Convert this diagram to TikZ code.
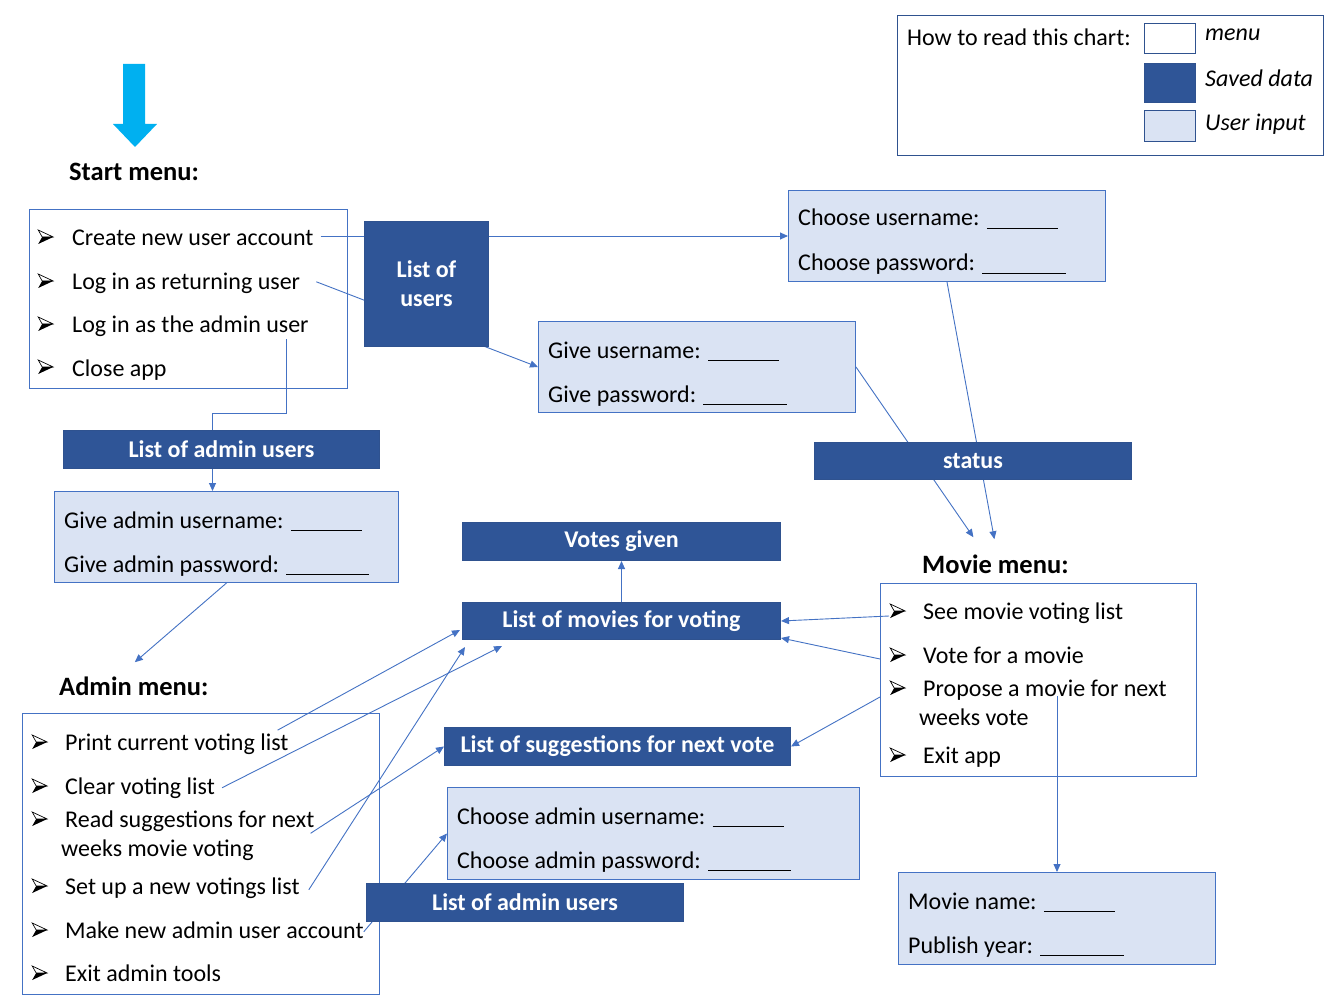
\documentclass[tikz,border=0pt]{standalone}
\usepackage{fontspec}
\setmainfont{Carlito}
\usetikzlibrary{arrows.meta,calc}
\definecolor{accent}{HTML}{4472C4}
\definecolor{navy}{HTML}{2F5597}
\definecolor{navyline}{HTML}{2F528F}
\definecolor{paleblue}{HTML}{DAE3F3}
\definecolor{skyarrow}{HTML}{00B0F0}
\pgfdeclarelayer{bg}
\pgfsetlayers{bg,main}
% answer field drawn as a rule of the given width (pt)
\newcommand\blankline[1]{\rule[-3pt]{#1pt}{1pt}}

\begin{document}
\begin{tikzpicture}[x=1pt,y=-1pt,
  every node/.style={font=\fontsize{24}{29}\selectfont},
  frame/.style={draw=accent, line width=1pt, anchor=north west, inner sep=0pt},
  menubox/.style={frame},
  inputbox/.style={frame, fill=paleblue},
  databox/.style={draw=navyline, fill=navy, line width=1pt, anchor=north west,
    inner sep=0pt, text=white, align=center,
    font=\fontsize{24}{29}\selectfont\bfseries},
  item/.style={anchor=base west, inner sep=0pt},
  % arrowhead bullet: outlined upper half, dark lower half
  bullet/.style={anchor=west, inner sep=0pt, minimum width=17pt, minimum height=16pt,
    path picture={
      \draw[black, line width=0.7pt, fill=white, line join=miter]
        ($(path picture bounding box.center)+(-7.5pt,7pt)$)
        -- ($(path picture bounding box.center)+(7.5pt,0pt)$)
        -- ($(path picture bounding box.center)+(-3.5pt,0pt)$) -- cycle;
      \fill[black]
        ($(path picture bounding box.center)+(-3.5pt,0pt)$)
        -- ($(path picture bounding box.center)+(7.5pt,0pt)$)
        -- ($(path picture bounding box.center)+(-7.5pt,-7pt)$) -- cycle;
    }},
  heading/.style={anchor=base west, inner sep=0pt, font=\fontsize{26.5}{31}\selectfont\bfseries},
  key/.style={anchor=base west, inner sep=0pt, font=\fontsize{24}{29}\selectfont\itshape},
  swatch/.style={draw=navyline, line width=1pt, anchor=north west, minimum width=51pt, inner sep=0pt},
  link/.style={draw=accent, line width=0.9pt, -{Triangle[length=8pt,width=7pt]}}
]
\useasboundingbox (0,0) rectangle (1344,1008);

% entry arrow
\fill[skyarrow] (123,64) -- (145,64) -- (145,124) -- (157,124) -- (135,147)
  -- (113,124) -- (123,124) -- cycle;

% ---------- start menu ----------
\node[heading] (startlbl) at (69,181) {Start menu:};
\node[menubox, minimum width=318pt, minimum height=179pt] (smenu) at (29,209) {};
\node[bullet] (smb1) at (37,237) {};
\node[item]   (smi1) at (72,246) {Create new user account};
\node[bullet] (smb2) at (37,281) {};
\node[item]   (smi2) at (72,290) {Log in as returning user};
\node[bullet] (smb3) at (37,324) {};
\node[item]   (smi3) at (72,333) {Log in as the admin user};
\node[bullet] (smb4) at (37,367) {};
\node[item]   (smi4) at (72,376) {Close app};

\node[databox, minimum width=124pt, minimum height=125pt] (users) at (364,221) {List of\\users};

\node[inputbox, minimum width=317pt, minimum height=91pt] (chooseu) at (788,190) {};
\node[item] (cu1) at (798,226) {Choose username: \blankline{71}};
\node[item] (cu2) at (798,271) {Choose password: \blankline{84}};

\node[inputbox, minimum width=317pt, minimum height=91pt] (givu) at (538,321) {};
\node[item] (gu1) at (548,358) {Give username: \blankline{71}};
\node[item] (gu2) at (548,402) {Give password: \blankline{84}};

\node[databox, minimum width=317pt, minimum height=37pt] (status) at (814,442) {status};

\node[databox, minimum width=316pt, minimum height=38pt] (admins) at (63,430) {List of admin users};

\node[inputbox, minimum width=344pt, minimum height=91pt] (gadmin) at (54,491) {};
\node[item] (ga1) at (64,528) {Give admin username: \blankline{71}};
\node[item] (ga2) at (64,572) {Give admin password: \blankline{83}};

\node[databox, minimum width=318pt, minimum height=38pt] (votes) at (462,522) {Votes given};
\node[databox, minimum width=318pt, minimum height=37pt] (movies) at (462,602) {List of movies for voting};

% ---------- movie menu ----------
\node[heading] (mmlabel) at (922,573) {Movie menu:};
\node[menubox, minimum width=316pt, minimum height=193pt] (mmenu) at (880,583) {};
\node[bullet] (mmb1) at (889,611) {};
\node[item]   (mm1)  at (923,619) {See movie voting list};
\node[bullet] (mmb2) at (889,655) {};
\node[item]   (mm2)  at (923,663) {Vote for a movie};
\node[bullet] (mmb3) at (889,688) {};
\node[item]   (mm3)  at (923,696) {Propose a movie for next};
\node[item]   (mm3b) at (919,725) {weeks vote};
\node[bullet] (mmb4) at (889,755) {};
\node[item]   (mm4)  at (923,763) {Exit app};

\node[inputbox, minimum width=317pt, minimum height=92pt] (mname) at (898,872) {};
\node[item] (mn1) at (908,909) {Movie name: \blankline{71}};
\node[item] (mn2) at (908,953) {Publish year: \blankline{84}};

% ---------- admin menu ----------
\node[heading] (amlabel) at (59,695) {Admin menu:};
\node[menubox, minimum width=357pt, minimum height=281pt] (amenu) at (22,713) {};
\node[bullet] (amb1) at (31,742) {};
\node[item]   (am1)  at (65,750) {Print current voting list};
\node[bullet] (amb2) at (31,786) {};
\node[item]   (am2)  at (65,794) {Clear voting list};
\node[bullet] (amb3) at (31,819) {};
\node[item]   (am3)  at (65,827) {Read suggestions for next};
\node[item]   (am3b) at (61,856) {weeks movie voting};
\node[bullet] (amb5) at (31,886) {};
\node[item]   (am5)  at (65,894) {Set up a new votings list};
\node[bullet] (amb6) at (31,930) {};
\node[item]   (am6)  at (65,938) {Make new admin user account};
\node[bullet] (amb7) at (31,973) {};
\node[item]   (am7)  at (65,981) {Exit admin tools};

\node[databox, minimum width=346pt, minimum height=38pt] (sugg) at (444,727) {List of suggestions for next vote};

\node[inputbox, minimum width=412pt, minimum height=92pt] (cadmin) at (447,787) {};
\node[item] (ca1) at (457,824) {Choose admin username: \blankline{71}};
\node[item] (ca2) at (457,868) {Choose admin password: \blankline{83}};

\node[databox, minimum width=317pt, minimum height=38pt] (admins2) at (366,883) {List of admin users};

% ---------- legend ----------
\node[draw=navyline, line width=1.2pt, anchor=north west, inner sep=0pt,
  minimum width=426pt, minimum height=140pt] (legend) at (897,15) {};
\node[item] (legtitle) at (907,46) {How to read this chart:};
\node[swatch, minimum height=30pt, fill=white]    (swmenu)  at (1144,23) {};
\node[swatch, minimum height=39pt, fill=navy]     (swdata)  at (1144,63) {};
\node[swatch, minimum height=31pt, fill=paleblue] (swinput) at (1144,110) {};
\node[key] (kmenu)  at (1205,41)  {menu};
\node[key] (kdata)  at (1205,87)  {Saved data};
\node[key] (kinput) at (1205,131) {User input};

% ---------- connectors (behind the data boxes) ----------
\begin{pgfonlayer}{bg}
\fill[white] (0,0) rectangle (1344,1008);
\draw[link, shorten <=7pt] (chooseu.west -| smi1.east) -- (chooseu.west);
\draw[link] ($(smi2.east)+(16,-2)$) -- (givu.west);
\draw[link] ($(smi3.south east)+(-22,2)$) -- ++(0,74) -| ($(gadmin.north)+(-14,0)$);
\draw[link] (chooseu.south) -- ($(mmlabel.north)+(-1,-15)$);
\draw[link] (givu.east) -- ($(mmlabel.north)+(-22,-17)$);
\draw[link] (gadmin.south) -- ($(amlabel.north)+(1,-14)$);
\draw[link] (movies.north) -- (votes.south);
\draw[link] ($(mmb1.west)+(0,5)$) -- (movies.east);
\draw[link] ($(mmenu.west |- mmb2)+(0,4)$) -- ($(movies.south east)+(0,-2)$);
\draw[link] ($(mmenu.west |- mm3.base)+(0,1)$) -- (sugg.east);
\draw[link] (mname.north |- mm3.base) -- (mname.north);
\draw[link] ($(am1.north east)+(-11,-3)$) -- ($(movies.west)+(-2,9)$);
\draw[link] ($(am2.east)+(7,0)$) -- ($(movies.south west)+(40,6)$);
\draw[link] ($(am3.south east)+(-4,2)$) -- (sugg.west);
\draw[link] ($(am5.east)+(9,2)$) -- ($(movies.south west)+(3,7)$);
\draw[link] ($(am6.east)+(0,2)$) -- (cadmin.west);
\end{pgfonlayer}
\end{tikzpicture}
\end{document}
